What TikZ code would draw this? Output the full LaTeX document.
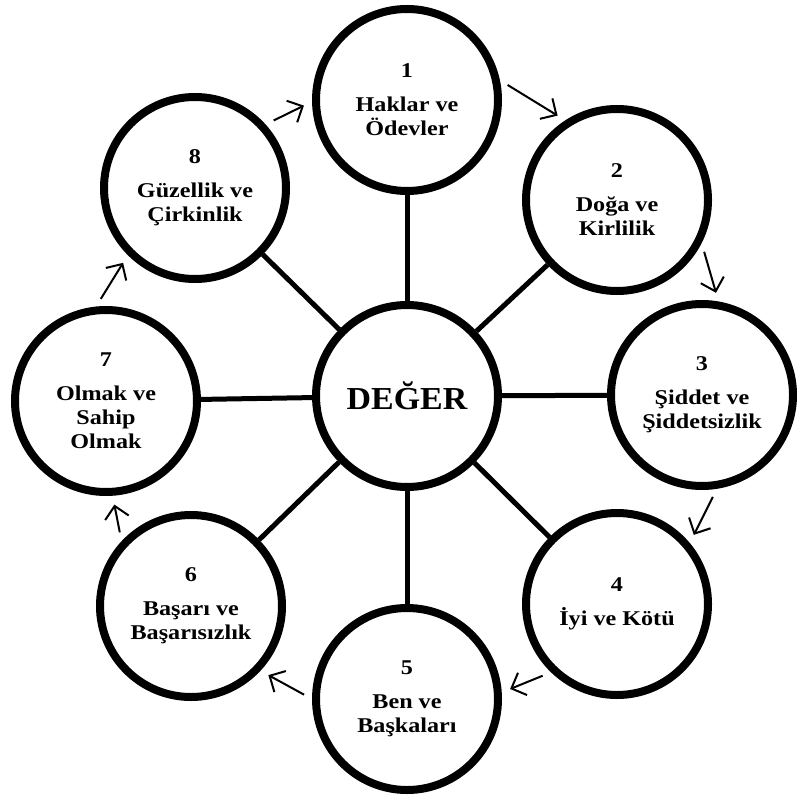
\documentclass[tikz,border=0pt]{standalone}
\usepackage{fontspec}
\setmainfont{Liberation Serif}
\newfontfamily\topicfont{Liberation Serif}[FakeStretch=1.15]
\newfontfamily\corefont{Liberation Serif}[FakeStretch=1.06]
\usetikzlibrary{arrows.meta}

\begin{document}
\begin{tikzpicture}[x=1pt,y=-1pt]
\tikzset{
  topic/.style={circle,draw,line width=8pt,minimum size=182pt,inner sep=0pt,align=center,fill=white,font=\topicfont\bfseries\fontsize{21}{24}\selectfont},
  core/.style={topic,font=\corefont\bfseries\fontsize{32}{36}\selectfont},
  spoke/.style={line width=5pt},
  flow/.style={-{Straight Barb[length=12pt,width=24pt]},line width=2pt,shorten <=9pt,shorten >=9pt}
}
\useasboundingbox (0,0) rectangle (796,799);
\node[core] (n_c) at (407,396) {DEĞER};
\node[topic] (n_1) at (407,100) {1\\[10pt]Haklar ve\\Ödevler};
\node[topic] (n_2) at (617,200) {2\\[10pt]Doğa ve\\Kirlilik};
\node[topic] (n_3) at (702,395) {3\\[10pt]Şiddet ve\\Şiddetsizlik};
\node[topic] (n_4) at (617,604) {4\\[10pt]İyi ve Kötü};
\node[topic] (n_5) at (407,699) {5\\[10pt]Ben ve\\Başkaları};
\node[topic] (n_6) at (191,606) {6\\[10pt]Başarı ve\\Başarısızlık};
\node[topic] (n_7) at (106,401) {7\\[10pt]Olmak ve\\Sahip\\Olmak};
\node[topic] (n_8) at (195,188) {8\\[10pt]Güzellik ve\\Çirkinlik};
\foreach \k in {1,...,8}
  \draw[spoke] (n_c) -- (n_\k);
\draw[flow] (n_1.12) -- (n_2.123);
\draw[flow] (n_2.-27) -- (n_3.80);
\draw[flow] (n_3.-81) -- (n_4.40);
\draw[flow] (n_4.226) -- (n_5.4);
\draw[flow] (n_5.180) -- (n_6.-43);
\draw[flow] (n_6.137) -- (n_7.-86);
\draw[flow] (n_7.96) -- (n_8.225);
\draw[flow] (n_8.42) -- (n_1.181);
\end{tikzpicture}
\end{document}
